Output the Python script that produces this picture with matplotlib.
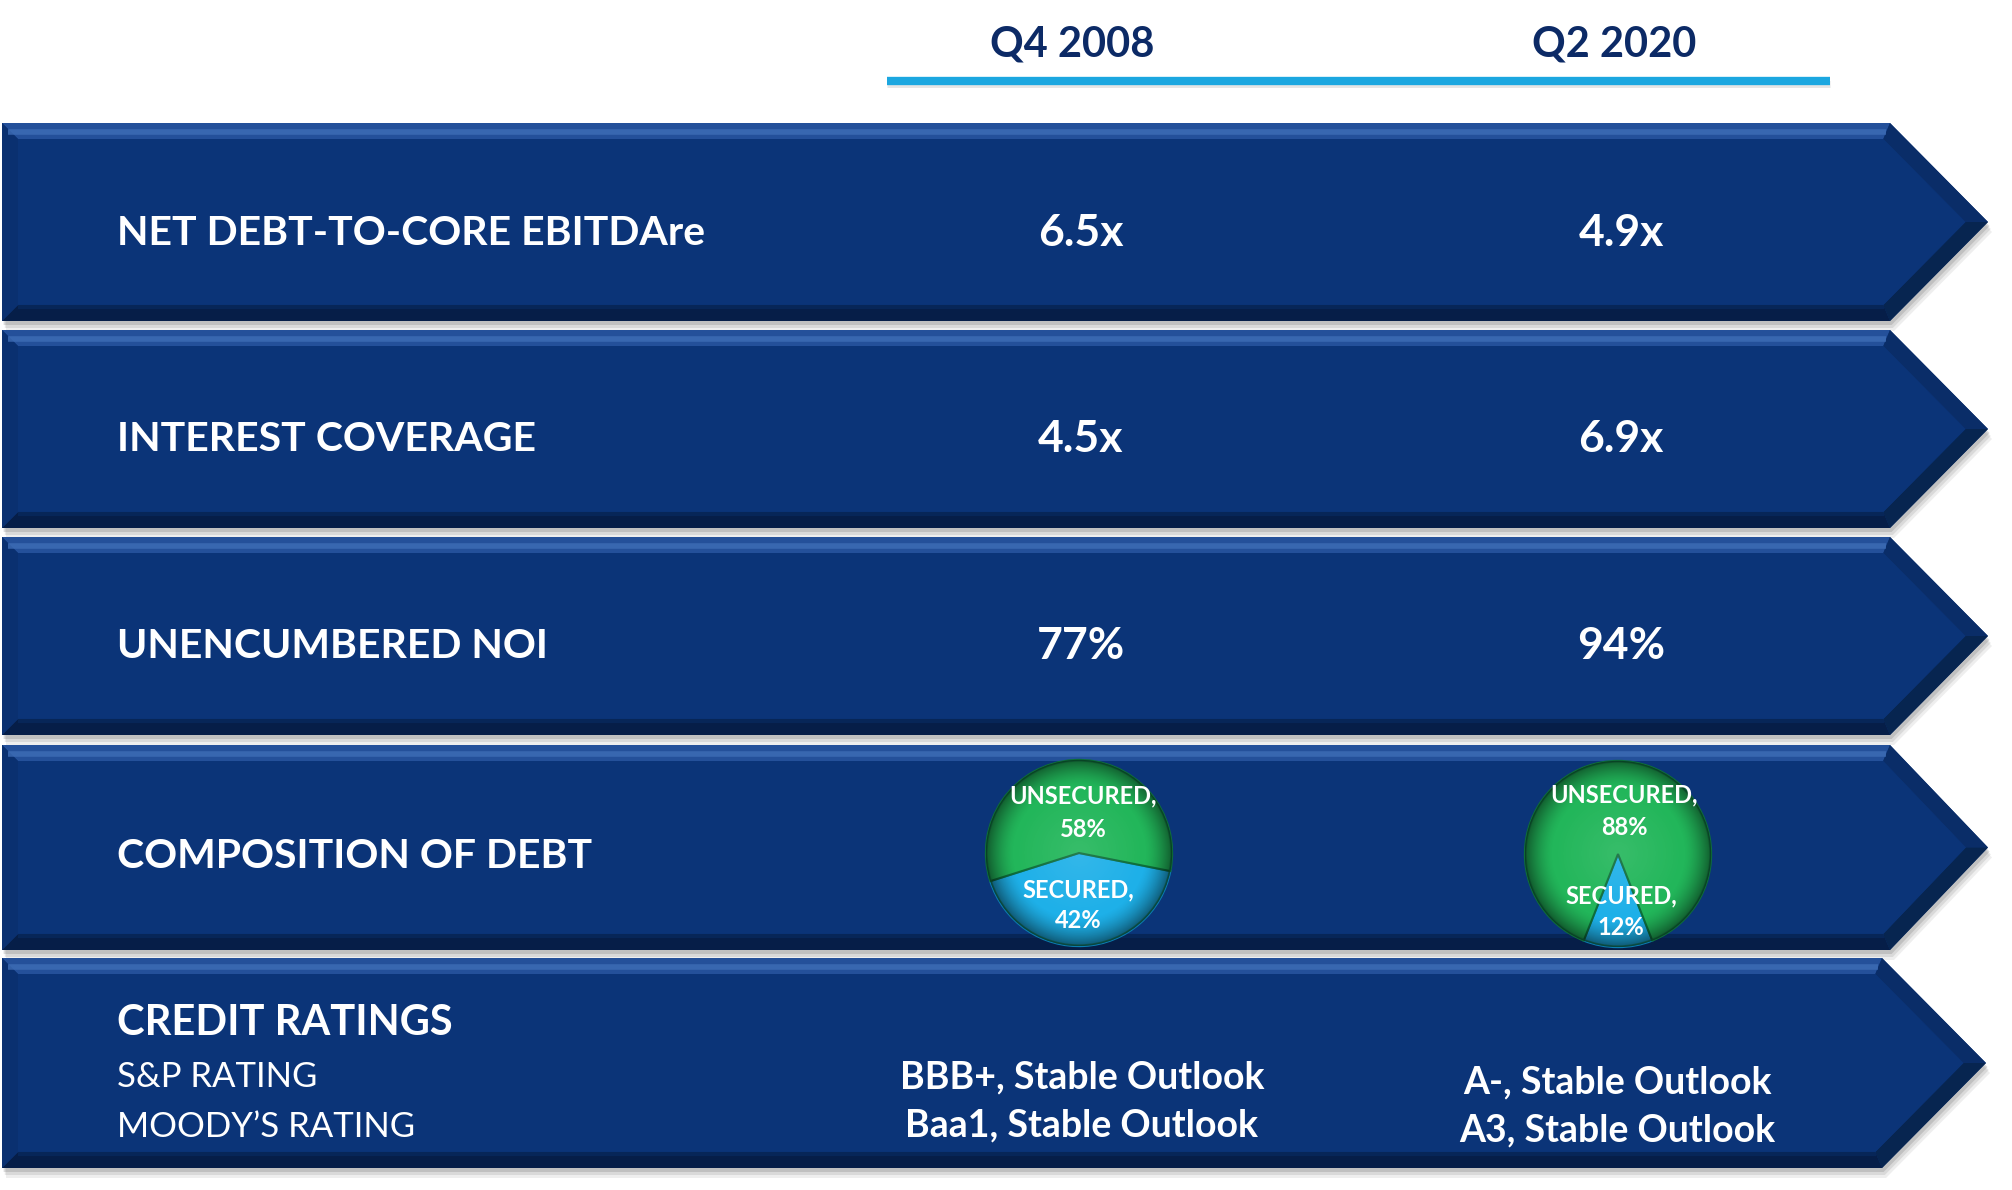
import numpy as np
import matplotlib
matplotlib.use("Agg")
import matplotlib.pyplot as plt
from matplotlib.patches import Polygon, Circle

# ---------------- data ----------------
periods = ["Q4 2008", "Q2 2020"]
metrics = ["NET DEBT-TO-CORE EBITDAre", "INTEREST COVERAGE", "UNENCUMBERED NOI",
           "COMPOSITION OF DEBT", "CREDIT RATINGS"]
net_debt = ["6.5x", "4.9x"]
interest_cov = ["4.5x", "6.9x"]
unencumbered = ["77%", "94%"]
debt_labels = ["SECURED", "UNSECURED"]
secured_pct = [42, 12]
unsecured_pct = [58, 88]
rating_agencies = ["S&P RATING", "MOODY\u2019S RATING"]
sp_rating = ["BBB+, Stable Outlook", "A-, Stable Outlook"]
moodys_rating = ["Baa1, Stable Outlook", "A3, Stable Outlook"]

# ---------------- style ----------------
FONT = ["Lato", "DejaVu Sans"]
NAVY = "#0B3478"
HEAD = "#0C2A66"
LINE_BLUE = "#1CA7E0"
GREEN = "#22B65A"
BLUE = "#1EB0E8"

W, H = 2012, 1190
fig = plt.figure(figsize=(W / 100, H / 100), dpi=100)
fig.patch.set_facecolor("white")
ax = fig.add_axes([0, 0, 1, 1])
ax.set_xlim(0, W)
ax.set_ylim(H, 0)
ax.axis("off")


def inset(pts, b):
    pts = np.asarray(pts, float)
    c = pts.mean(axis=0)
    n = len(pts)
    lines = []
    for i in range(n):
        p, q = pts[i], pts[(i + 1) % n]
        d = q - p
        nv = np.array([-d[1], d[0]]) / np.hypot(*d)
        if np.dot(nv, c - p) < 0:
            nv = -nv
        lines.append((p + b * nv, d))
    inner = []
    for i in range(n):
        (p1, d1), (p2, d2) = lines[i - 1], lines[i]
        A = np.array([d1, -d2]).T
        t = np.linalg.solve(A, p2 - p1)
        inner.append(p1 + t[0] * d1)
    return np.array(inner)


tops = [123, 330, 537, 745, 958]
bots = [321, 528, 735, 950, 1168]
body_end = [1890, 1890, 1890, 1890, 1882]
tip_x = [1988, 1988, 1988, 1988, 1986]
x0 = 2
bev = 16
facet_cols = ["#24509A", "#0A2D68", "#072550", "#061E48", "#0A3070"]

for t, b, xb, xt in zip(tops, bots, body_end, tip_x):
    mid = (t + b) / 2
    outer = np.array([(x0, t), (xb, t), (xt, mid), (xb, b), (x0, b)], float)
    # drop shadow
    for k, a in zip([10, 7, 4], [0.10, 0.14, 0.20]):
        ax.add_patch(Polygon(outer + np.array([k * 0.4, k]), closed=True,
                             facecolor="#606060", edgecolor="none", alpha=a, zorder=1))
    ax.add_patch(Polygon(outer, closed=True, facecolor=NAVY, edgecolor="none", zorder=2))
    inner = inset(outer, bev)
    n = len(outer)
    for i in range(n):
        quad = [outer[i], outer[(i + 1) % n], inner[(i + 1) % n], inner[i]]
        ax.add_patch(Polygon(quad, closed=True, facecolor=facet_cols[i],
                             edgecolor="none", zorder=3))
    ax.add_patch(Polygon(inner, closed=True, facecolor=NAVY, edgecolor="none", zorder=3))
    # highlight stripe on top bevel
    ax.plot([x0 + 6, xb - 4], [t + 9, t + 9], color="#3E6DB6", lw=4, alpha=0.8,
            solid_capstyle="butt", zorder=4)
    ax.plot([x0 + bev, xb - 6], [b - bev + 2, b - bev + 2], color="#082A60", lw=3,
            alpha=0.7, solid_capstyle="butt", zorder=4)

# header
col_x = [1078, 1618]
for x, p in zip([1072, 1614], periods):
    ax.text(x, 57, p, ha="center", va="baseline", color=HEAD, fontsize=30,
            fontweight="bold", family=FONT, zorder=6)
ax.plot([887, 1830], [84, 84], color="#000000", lw=5, alpha=0.10,
        solid_capstyle="butt", zorder=4)
ax.plot([887, 1830], [81, 81], color=LINE_BLUE, lw=6, solid_capstyle="butt", zorder=5)

# row labels
label_base = [245, 451, 658, 868]
for y, m in zip(label_base, metrics[:4]):
    ax.text(117, y, m, ha="left", va="baseline", color="white", fontsize=29.5,
            fontweight="bold", family=FONT, zorder=6)

for y, vals in zip(label_base[:3], [net_debt, interest_cov, unencumbered]):
    for x, v in zip(col_x, vals):
        ax.text(x + 3, y + 1, v, ha="center", va="baseline", color="white",
                fontsize=32, fontweight="bold", family=FONT, zorder=6)

# credit ratings
ax.text(117, 1035, metrics[4], ha="left", va="baseline", color="white", fontsize=30,
        fontweight="bold", family=FONT, zorder=6)
for y, s in zip([1087, 1137], rating_agencies):
    ax.text(117, y, s, ha="left", va="baseline", color="white", fontsize=25,
            fontweight="normal", family=FONT, zorder=6)
for x, dy, s1, s2 in zip([1082, 1617], [0, 5], sp_rating, moodys_rating):
    ax.text(x, 1088 + dy, s1, ha="center", va="baseline", color="white", fontsize=27,
            fontweight="bold", family=FONT, zorder=6)
    ax.text(x, 1136 + dy, s2, ha="center", va="baseline", color="white", fontsize=27,
            fontweight="bold", family=FONT, zorder=6)

# pies
pie_centers = [(1079, 853), (1618, 854)]
pie_r = 95
rr = np.linspace(-1, 1, 300)
XX, YY = np.meshgrid(rr, rr)
RR = np.hypot(XX, YY)
shade = np.zeros((300, 300, 4))
shade[..., 3] = np.clip((RR - 0.70) / 0.30, 0, 1) ** 1.5 * 0.50
glow = np.ones((300, 300, 4))
glow[..., 3] = np.clip(1 - RR / 0.7, 0, 1) * 0.10

for k, ((cx, cy), sec, uns) in enumerate(zip(pie_centers, secured_pct, unsecured_pct)):
    pa = fig.add_axes([(cx - pie_r) / W, 1 - (cy + pie_r) / H, 2 * pie_r / W, 2 * pie_r / H])
    pa.set_aspect("equal")
    start = 270 - sec * 3.6 / 2 + (3.2 if k == 0 else 0)
    wedges, _ = pa.pie([sec, uns], colors=[BLUE, GREEN], startangle=start,
                       counterclock=True, radius=1.0,
                       wedgeprops=dict(edgecolor="#0E6E3A", linewidth=1.5))
    wedges[0].set_edgecolor("#0B7DB0")
    pa.set_xlim(-1.02, 1.02)
    pa.set_ylim(-1.02, 1.02)
    pa.axis("off")
    for img in (shade, glow):
        im = pa.imshow(img, extent=(-1, 1, -1, 1), zorder=3)
        im.set_clip_path(Circle((0, 0), 1.0, transform=pa.transData))
    pa.add_patch(Circle((0, 0), 0.99, fill=False, edgecolor="#0B4A2A", lw=1.2, alpha=0.6, zorder=4))

    # labels (figure-level so they draw above the pie axes)
    ux = [1083, 1624][k]
    sx = [1078, 1621][k]
    items = [(ux, [803, 802][k], "UNSECURED,"),
             (ux, [837, 835][k], f"{uns}%"),
             (sx, [897, 903][k], "SECURED,"),
             (sx, [928, 935][k], f"{sec}%")]
    for x, y, s in items:
        fig.text(x, y, s, transform=ax.transData, ha="center", va="baseline",
                 color="white", fontsize=17, fontweight="bold", family=FONT, zorder=8)

fig.savefig("out.png", dpi=100, facecolor="white")
